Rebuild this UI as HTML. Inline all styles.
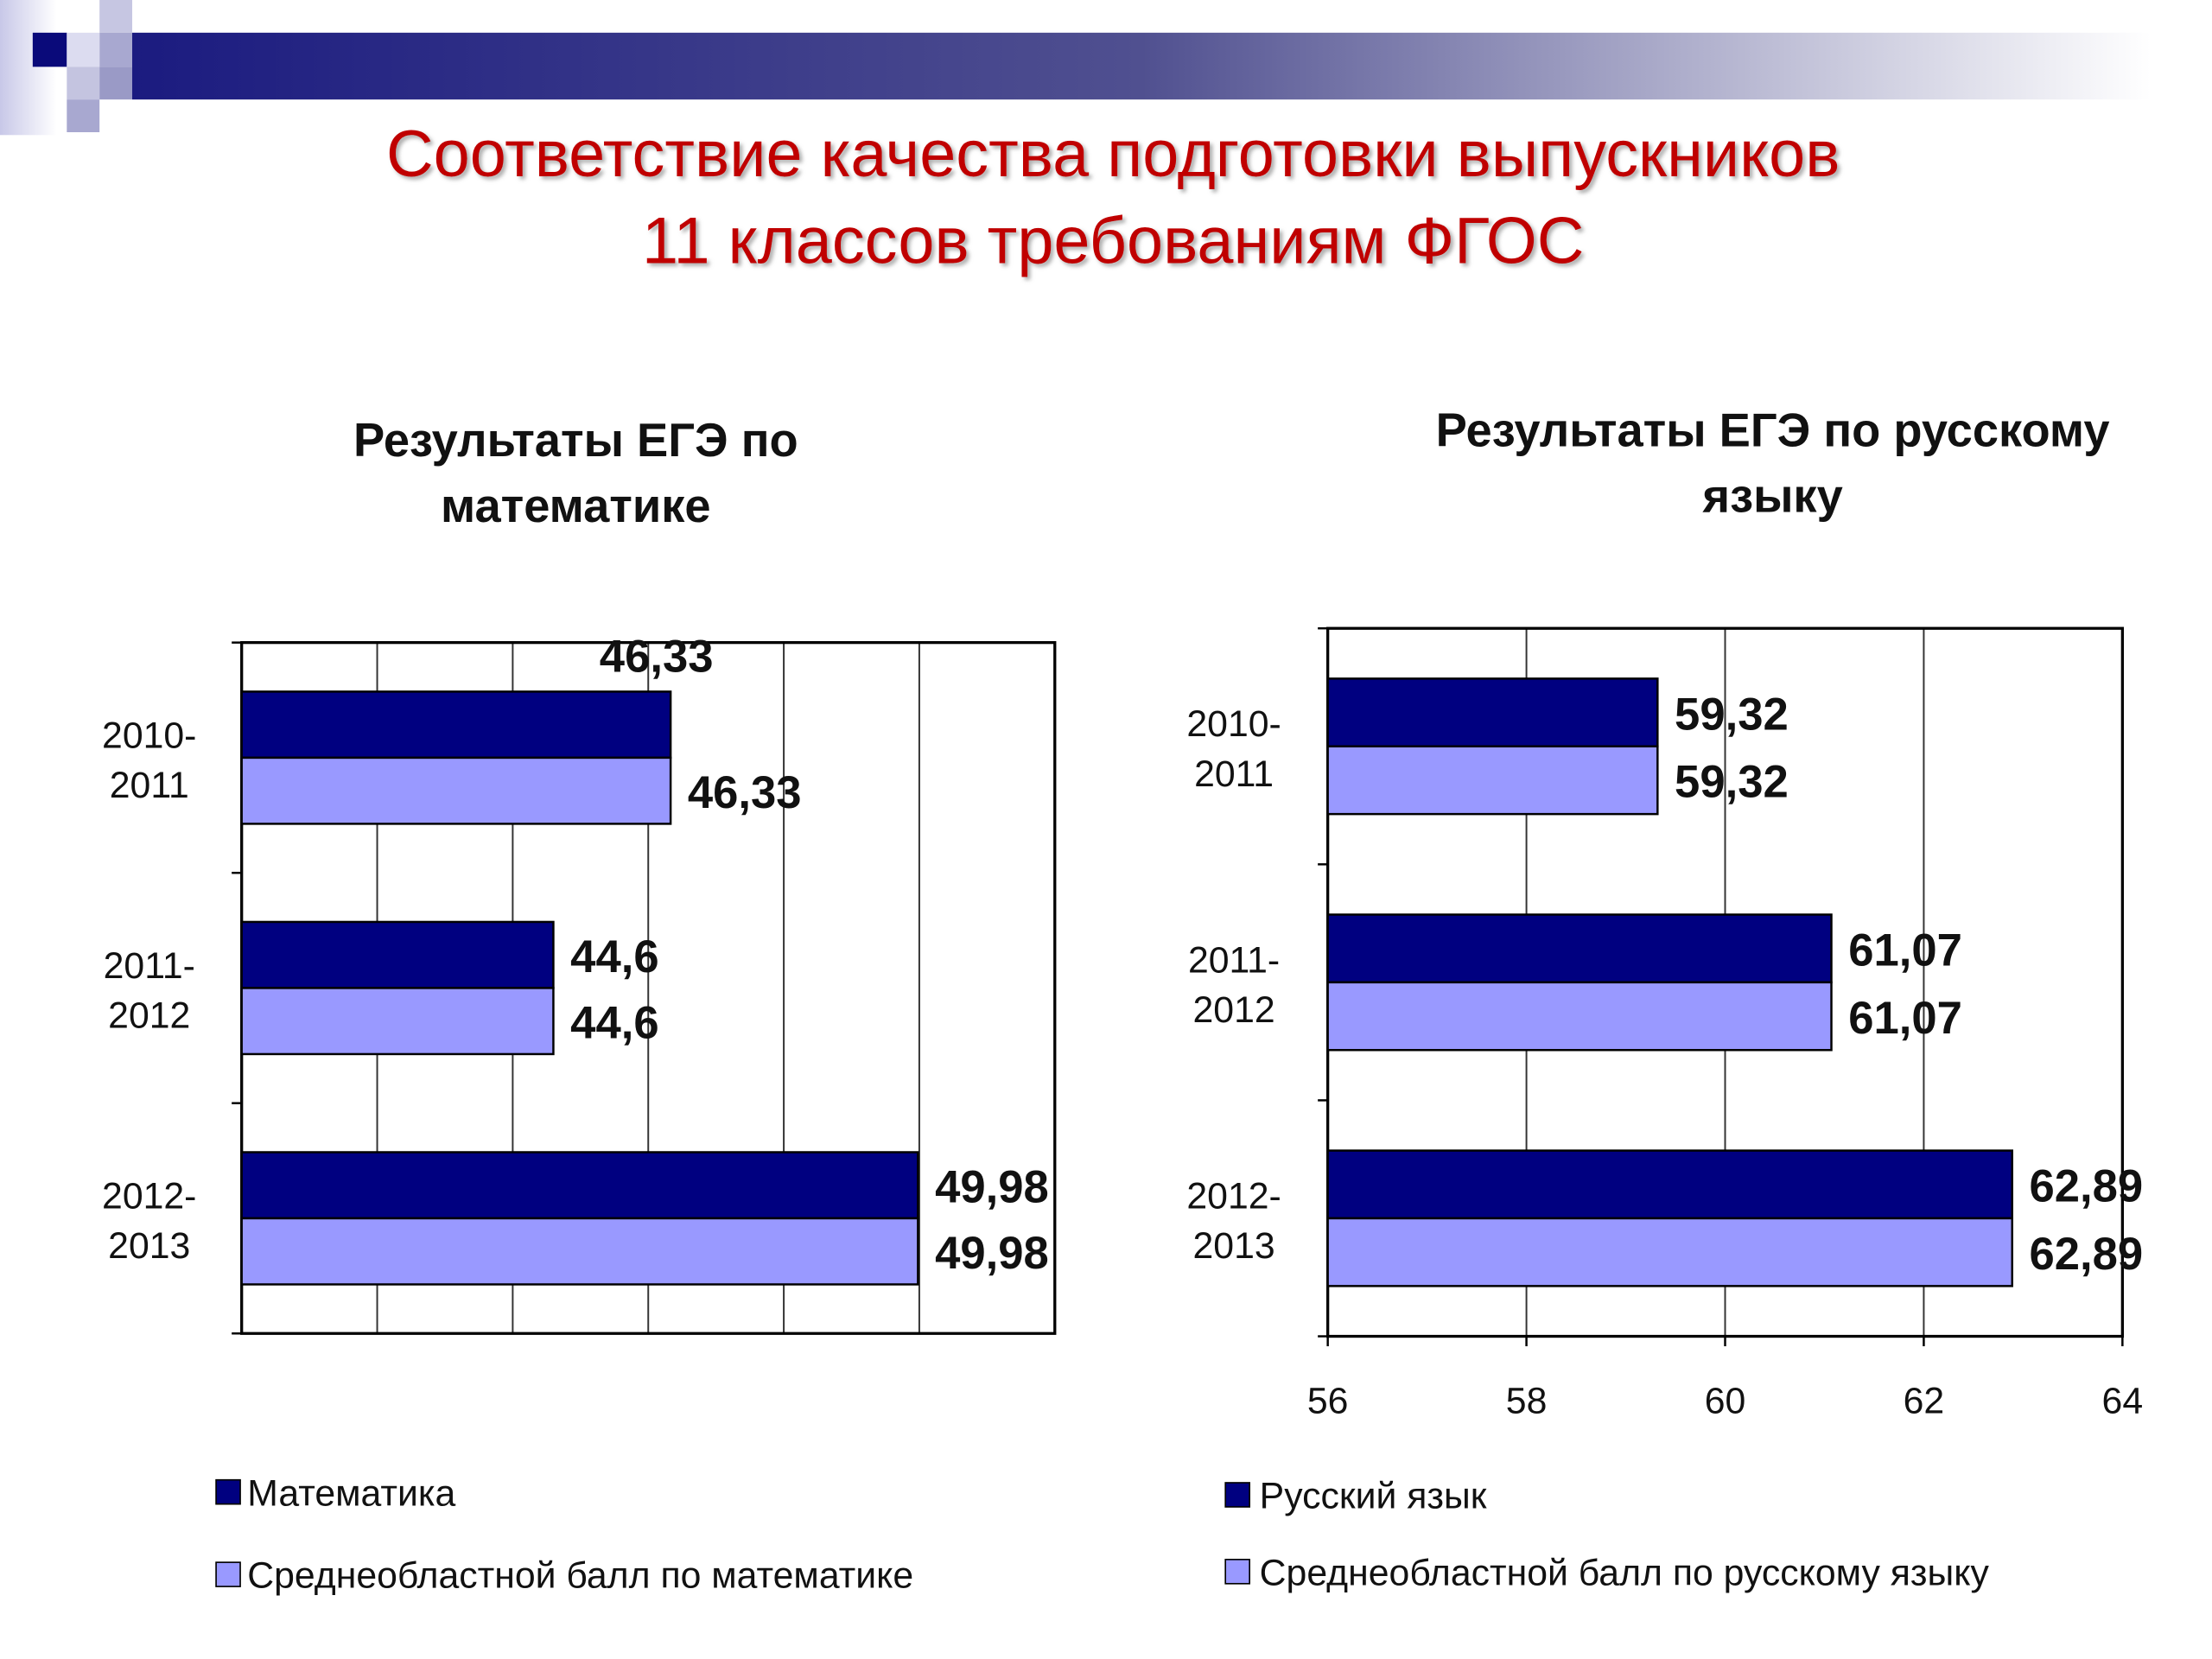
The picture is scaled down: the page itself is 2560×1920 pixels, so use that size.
<!DOCTYPE html>
<html><head><meta charset="utf-8">
<style>
html,body{margin:0;padding:0;background:#fff;}
svg{display:block;font-family:"Liberation Sans","DejaVu Sans",sans-serif;}
</style></head>
<body>
<svg id="s" width="2560" height="1920" viewBox="0 0 1556 1167" preserveAspectRatio="none" xmlns="http://www.w3.org/2000/svg">
<defs>
<linearGradient id="hb" x1="0" x2="1" y1="0" y2="0">
<stop offset="0" stop-color="#1b1b80"/><stop offset="0.5" stop-color="#505090"/><stop offset="1" stop-color="#ffffff"/>
</linearGradient>
<linearGradient id="vs" x1="0" x2="1" y1="0" y2="0">
<stop offset="0" stop-color="#c8c8e8"/><stop offset="1" stop-color="#ffffff"/>
</linearGradient>
<filter id="sh"><feDropShadow dx="2" dy="2" stdDeviation="1.5" flood-color="#888" flood-opacity="0.7"/></filter>
</defs>
<g>
<rect x="0" y="0" width="40" height="95" fill="url(#vs)"/>
<rect x="93" y="23" width="1420" height="47" fill="url(#hb)"/>
<rect x="23" y="23" width="24" height="24" fill="#0a0a7a"/>
<rect x="70" y="0" width="23" height="23" fill="#c6c6e2"/>
<rect x="70" y="23" width="23" height="24" fill="#a8a8d0"/>
<rect x="47" y="23" width="23" height="24" fill="#dcdcf0"/>
<rect x="47" y="47" width="23" height="23" fill="#c4c4e0"/>
<rect x="70" y="47" width="23" height="23" fill="#9a9ac6"/>
<rect x="47" y="70" width="23" height="23" fill="#a8a8d0"/>
</g>
<g fill="#c00000" font-size="46" text-anchor="middle" filter="url(#sh)">
<text x="783" y="124">Соответствие качества подготовки выпускников</text>
<text x="783" y="185">11 классов требованиям ФГОС</text>
</g>
<g font-size="33" font-weight="bold" text-anchor="middle" fill="#111">
<text x="405" y="321">Результаты ЕГЭ по</text>
<text x="405" y="367">математике</text>
</g>
<g font-size="33" font-weight="bold" text-anchor="middle" fill="#111">
<text x="1247" y="314">Результаты ЕГЭ по русскому</text>
<text x="1247" y="360">языку</text>
</g>
<g id="c1"></g>
<g id="c2"></g>
<g font-size="26" fill="#111">
<rect x="152" y="1041" width="17" height="17" fill="#000080" stroke="#000" stroke-width="1"/>
<text x="174" y="1059">Математика</text>
<rect x="152" y="1099" width="17" height="17" fill="#9999ff" stroke="#000" stroke-width="1"/>
<text x="174" y="1117">Среднеобластной балл по математике</text>
</g>
<g font-size="26" fill="#111">
<rect x="862" y="1043" width="17" height="17" fill="#000080" stroke="#000" stroke-width="1"/>
<text x="886" y="1061">Русский язык</text>
<rect x="862" y="1097" width="17" height="17" fill="#9999ff" stroke="#000" stroke-width="1"/>
<text x="886" y="1115">Среднеобластной балл по русскому языку</text>
</g>
</svg>
<script>
const categories = ["2010-|2011", "2011-|2012", "2012-|2013"];
const mathValues = [46.33, 44.6, 49.98];
const mathRegional = [46.33, 44.6, 49.98];
const mathLabels = ["46,33", "44,6", "49,98"];
const mathRegionalLabels = ["46,33", "44,6", "49,98"];
const mathTicks = [40, 42, 44, 46, 48, 50, 52];
const rusValues = [59.32, 61.07, 62.89];
const rusRegional = [59.32, 61.07, 62.89];
const rusLabels = ["59,32", "61,07", "62,89"];
const rusRegionalLabels = ["59,32", "61,07", "62,89"];
const rusTicks = [56, 58, 60, 62, 64];

const NS = "http://www.w3.org/2000/svg";
function mk(p, tag, attrs, txt) {
  const e = document.createElementNS(NS, tag);
  for (const k in attrs) e.setAttribute(k, attrs[k]);
  if (txt !== undefined) e.textContent = txt;
  p.appendChild(e);
  return e;
}
function drawChart(g, cfg) {
  const {x0, x1, y0, y1, ticks, v1, v2, l1, l2, showTicks, catX, prefix, firstAbove} = cfg;
  const min = ticks[0], max = ticks[ticks.length - 1];
  const xs = v => x0 + (v - min) / (max - min) * (x1 - x0);
  const band = (y1 - y0) / categories.length;
  const bh = band * 0.287;
  ticks.forEach((t, i) => {
    const gl = mk(g, "line", {x1: xs(t), x2: xs(t), y1: y0, y2: y1, stroke: "#333", "stroke-width": 1.2});
    
    
    if (showTicks) {
      const tl = mk(g, "text", {x: xs(t), y: y1 + 54, "font-size": 26, "text-anchor": "middle", fill: "#111"}, String(t));
      
      
      const tk = mk(g, "line", {x1: xs(t), x2: xs(t), y1: y1, y2: y1 + 7, stroke: "#000", "stroke-width": 1.5});
      
      
    }
  });
  const fr = mk(g, "rect", {x: x0, y: y0, width: x1 - x0, height: y1 - y0, fill: "none", stroke: "#000", "stroke-width": 2});
  
  
  for (let i = 0; i <= categories.length; i++) {
    const tk = mk(g, "line", {x1: x0 - 7, x2: x0, y1: y0 + band * i, y2: y0 + band * i, stroke: "#000", "stroke-width": 1.5});
    
    
  }
  categories.forEach((c, i) => {
    const cy = y0 + band * i + band / 2;
    const parts = c.split("|");
    const lab = mk(g, "text", {x: catX, y: cy - 7, "font-size": 26, "text-anchor": "middle", fill: "#111"});
    
    
    mk(lab, "tspan", {x: catX, dy: 0}, parts[0]);
    mk(lab, "tspan", {x: catX, dy: 35}, parts[1]);
    const b1 = mk(g, "rect", {x: x0, y: cy - bh, width: xs(v1[i]) - x0, height: bh, fill: "#000080", stroke: "#000", "stroke-width": 1.5});
    
    
    const b2 = mk(g, "rect", {x: x0, y: cy, width: xs(v2[i]) - x0, height: bh, fill: "#9999ff", stroke: "#000", "stroke-width": 1.5});
    
    
    let t1x = xs(v1[i]) + 12, t1y = cy - bh / 2 + 12, anchor = "start";
    if (firstAbove && i === 0) { t1x = xs(v1[i]) - 10; t1y = cy - bh - 14; anchor = "middle"; }
    const vt1 = mk(g, "text", {x: t1x, y: t1y, "font-size": 32, "font-weight": "bold", "text-anchor": anchor, fill: "#111"}, l1[i]);
    
    
    const vt2 = mk(g, "text", {x: xs(v2[i]) + 12, y: cy + bh / 2 + 12, "font-size": 32, "font-weight": "bold", fill: "#111"}, l2[i]);
    
    
  });
}
drawChart(document.getElementById("c1"), {x0: 170, x1: 742, y0: 452, y1: 938, ticks: mathTicks, v1: mathValues, v2: mathRegional, l1: mathLabels, l2: mathRegionalLabels, showTicks: false, catX: 105, prefix: "math", firstAbove: true});
drawChart(document.getElementById("c2"), {x0: 934, x1: 1493, y0: 442, y1: 940, ticks: rusTicks, v1: rusValues, v2: rusRegional, l1: rusLabels, l2: rusRegionalLabels, showTicks: true, catX: 868, prefix: "russian", firstAbove: false});
</script>
</body></html>
